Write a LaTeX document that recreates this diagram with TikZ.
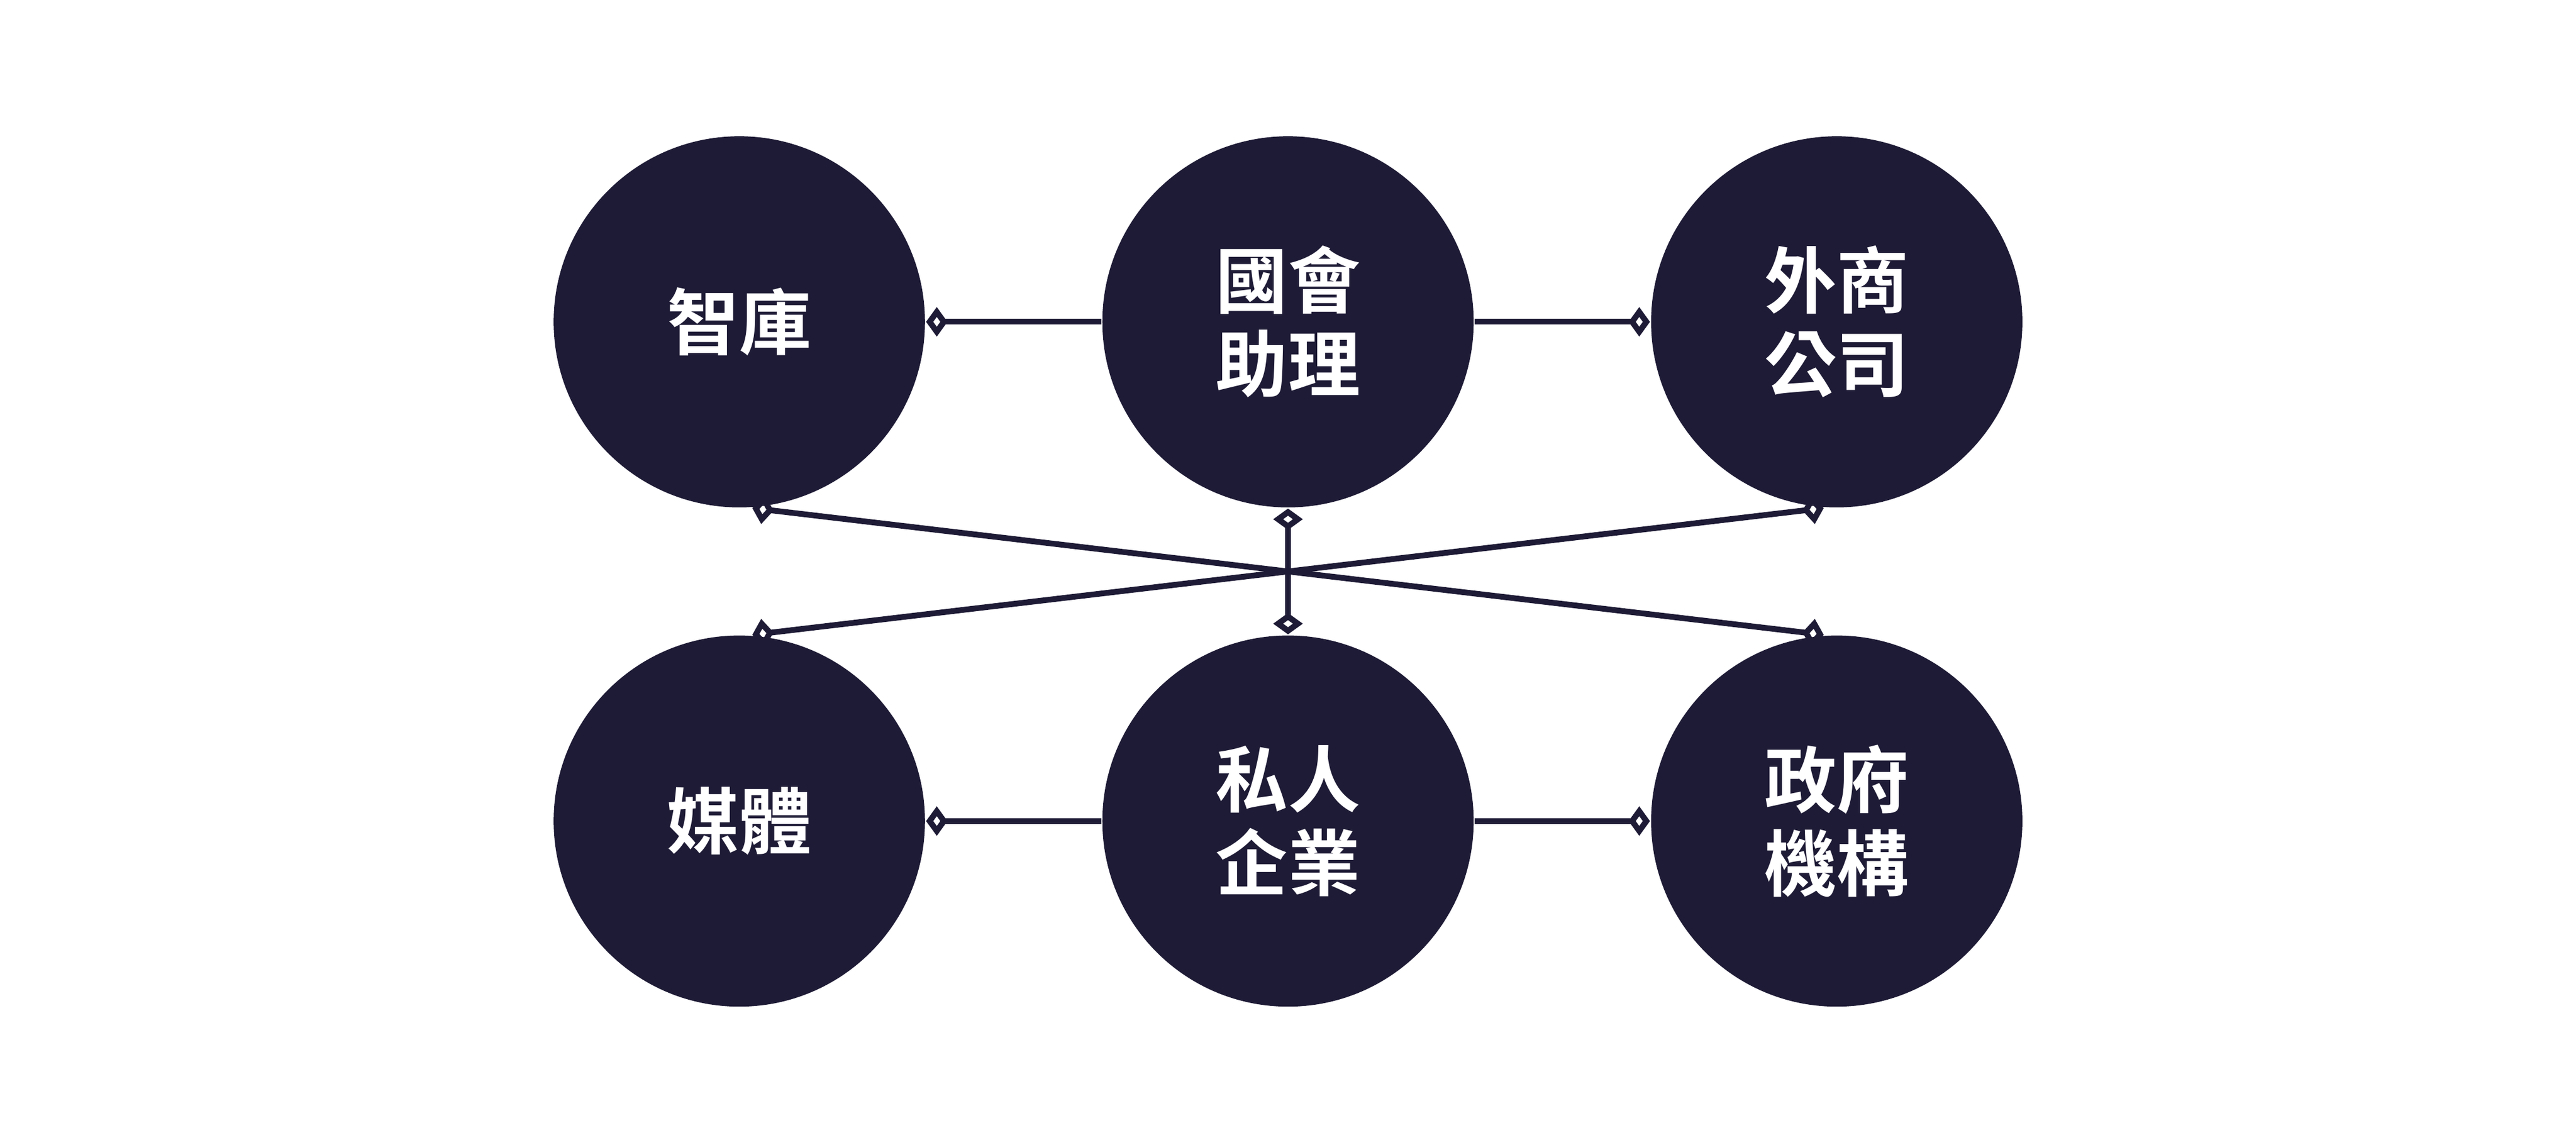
\documentclass[tikz,border=0pt]{standalone}
\usepackage{fontspec}
\newfontfamily\cjk{Noto Sans CJK TC}[BoldFont={* Bold}]
\usetikzlibrary{arrows.meta}
\definecolor{navy}{HTML}{1E1B36}
\tikzset{
  ball/.style={circle, fill=navy, minimum size=2.26cm, inner sep=0pt,
    text=white, font=\cjk\bfseries\fontsize{12.5}{14.5}\selectfont, align=center},
  link/.style={draw=navy, line width=1pt},
  dia/.tip={Diamond[open, length=0.13cm, width=0.18cm, line width=1pt]}
}
\begin{document}
\begin{tikzpicture}
\useasboundingbox (0,0) rectangle (15.68,6.97);

\node[ball] (think) at (4.50, 5.01) {智庫};
\node[ball] (aide) at (7.84, 5.01) {國會\\助理};
\node[ball] (firm) at (11.18, 5.01) {外商\\公司};
\node[ball] (media) at (4.50, 1.97) {媒體};
\node[ball] (corp) at (7.84, 1.97) {私人\\企業};
\node[ball] (gov) at (11.18, 1.97) {政府\\機構};

\draw[link, dia-] (think) -- (aide);
\draw[link, -dia] (aide) -- (firm);
\draw[link, dia-] (media) -- (corp);
\draw[link, -dia] (corp) -- (gov);
\draw[link, dia-dia] (aide) -- (corp);
\draw[link, dia-dia] (think.-86) -- (gov.94);
\draw[link, dia-dia] (firm.-94) -- (media.86);
\end{tikzpicture}
\end{document}
